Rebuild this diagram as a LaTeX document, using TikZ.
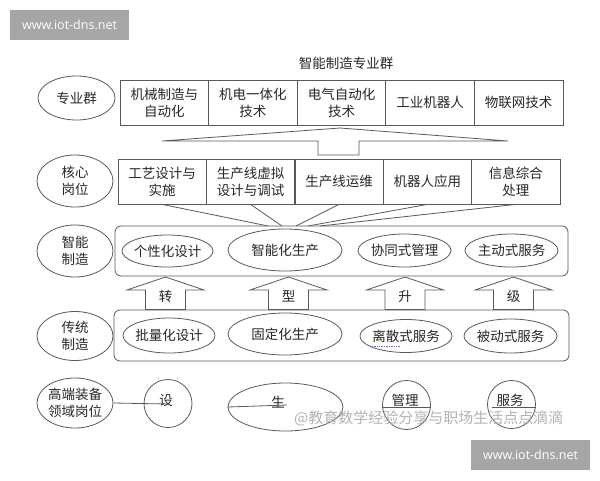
\documentclass[tikz,border=0pt]{standalone}
\usepackage{fontspec}
\newfontfamily\cjk{Noto Sans CJK SC}
\newfontfamily\wmfont{Open Sans}
\usetikzlibrary{shapes.geometric}
\begin{document}
\begin{tikzpicture}[x=1pt,y=-1pt,
  ln/.style={draw=black!65, line width=0.8pt},
  shapeell/.style={ellipse, ln, inner sep=0pt},
  txt/.style={font=\cjk\fontsize{13.5}{17}\selectfont, align=center, text=black!85, inner sep=0pt},
  cell/.style={rectangle, ln, minimum width=88.6pt, minimum height=45pt, inner sep=0pt, txt},
  rbox/.style={rectangle, ln, rounded corners=6pt, inner sep=0pt},
  blockarrow/.style={ln, fill=white, line join=miter},
  wmbox/.style={fill=black!35, inner sep=0pt, minimum width=119pt, minimum height=30pt, text=white, font=\wmfont\fontsize{12.5}{14}\selectfont},
  wmtext/.style={font=\cjk\fontsize{15}{18}\selectfont, text=black!30, inner sep=0pt}
]
\useasboundingbox (0,0) rectangle (600,480);

% watermarks
\node[wmbox] (wm1) at (69.5,25) {www.iot-dns.net};
\node[wmbox] (wm2) at (530.5,455) {www.iot-dns.net};

% title
\node[txt] (title) at (346,63) {智能制造专业群};

% left column ellipses
\node[shapeell, minimum width=77pt, minimum height=44pt] (e1) at (76.5,98) {};
\node[txt] (e1t) at (e1) {专业群};
\node[shapeell, minimum width=76pt, minimum height=52pt] (e2) at (75,181) {};
\node[txt] (e2t) at (e2) {核心\\岗位};
\node[shapeell, minimum width=76pt, minimum height=52pt] (e3) at (75,251) {};
\node[txt] (e3t) at (e3) {智能\\制造};
\node[shapeell, minimum width=76pt, minimum height=49pt] (e4) at (75,336) {};
\node[txt] (e4t) at (e4) {传统\\制造};
\node[shapeell, minimum width=76pt, minimum height=50pt] (e5) at (75,403) {};
\node[txt] (e5t) at (e5) {高端装备\\领域岗位};

% row 1: specialty group
\node[cell] (a1) at (164.3,102.5) {机械制造与\\自动化};
\node[cell] (a2) at (252.9,102.5) {机电一体化\\技术};
\node[cell] (a3) at (341.5,102.5) {电气自动化\\技术};
\node[cell] (a4) at (430.1,102.5) {工业机器人};
\node[cell] (a5) at (518.7,102.5) {物联网技术};

% funnel
\draw[ln, line join=miter] (162,141) -- (340,128) -- (508,141) -- (359,141) -- (359,155)
  -- (318,155) -- (318,141) -- cycle;

% row 2: core positions
\node[cell] (b1) at (162.2,181.5) {工艺设计与\\实施};
\node[cell] (b2) at (250.6,181.5) {生产线虚拟\\设计与调试};
\node[cell] (b3) at (339,181.5) {生产线运维};
\node[cell] (b4) at (427.4,181.5) {机器人应用};
\node[cell] (b5) at (515.8,181.5) {信息综合\\处理};

% smart manufacturing box
\node[rbox, minimum width=453pt, minimum height=50pt] (sm) at (341.5,251) {};
\node[shapeell, minimum width=91pt, minimum height=32pt] (s1) at (167.5,251) {};
\node[txt] (s1t) at (s1) {个性化设计};
\node[shapeell, minimum width=114pt, minimum height=42pt] (s2) at (285,250) {};
\node[txt] (s2t) at (s2) {智能化生产};
\node[shapeell, minimum width=93pt, minimum height=33pt] (s3) at (404.5,250.5) {};
\node[txt] (s3t) at (s3) {协同式管理};
\node[shapeell, minimum width=93pt, minimum height=33pt] (s4) at (511.5,250.5) {};
\node[txt] (s4t) at (s4) {主动式服务};

% converging lines
\coordinate (t1) at (268,226);
\coordinate (t2) at (282,226);
\coordinate (t3) at (296,226);
\coordinate (t4) at (308,226);
\coordinate (t5) at (320,226);
\draw[ln] (b1.south) -- (t1);
\draw[ln] (b2.south) -- (t2);
\draw[ln] (b3.south) -- (t3);
\draw[ln] (b4.south) -- (t4);
\draw[ln] (b5.south) -- (t5);

% traditional manufacturing box
\node[rbox, minimum width=455pt, minimum height=51pt] (tm) at (341.5,335.5) {};
\node[shapeell, minimum width=92pt, minimum height=35pt] (r1) at (169,335.5) {};
\node[txt] (r1t) at (r1) {批量化设计};
\node[shapeell, minimum width=114pt, minimum height=42pt] (r2) at (285,334) {};
\node[txt] (r2t) at (r2) {固定化生产};
\node[shapeell, minimum width=92pt, minimum height=33pt] (r3) at (406,336) {};
\node[txt] (r3t) at (r3) {离散式服务};
\node[shapeell, minimum width=93pt, minimum height=34pt] (r4) at (510.5,336) {};
\node[txt] (r4t) at (r4) {被动式服务};
\draw[blue!60, densely dotted, line width=0.7pt] (372,346) -- (400,346);

% block arrows (transformation and upgrade)
\foreach \cx in {165.5,288.5,405,513.5}{
  \draw[blockarrow] (\cx,277) -- (\cx+38.5,290) -- (\cx+20,290) -- (\cx+20,309.5)
    -- (\cx-20,309.5) -- (\cx-20,290) -- (\cx-38.5,290) -- cycle;
}
\node[txt] (k1) at (165.5,296) {转};
\node[txt] (k2) at (288.5,296) {型};
\node[txt] (k3) at (405,296) {升};
\node[txt] (k4) at (513.5,296) {级};

% bottom row
\node[shapeell, minimum width=48pt, minimum height=48pt] (c1) at (168,403.5) {};
\node[txt] (c1t) at (166,401) {设};
\node[shapeell, minimum width=115pt, minimum height=48pt] (c2) at (285.5,407) {};
\node[txt] (c2t) at (278,402) {生};
\node[shapeell, minimum width=48pt, minimum height=49pt] (c3) at (406.5,405) {};
\node[txt] (c3t) at (405,400) {管理};
\node[shapeell, minimum width=48pt, minimum height=48pt] (c4) at (511.5,404.5) {};
\node[txt] (c4t) at (510,400) {服务};
\coordinate (l1) at (167,404);
\coordinate (l2) at (287,405);
\draw[ln] (e5.east) -- (l1);
\draw[ln] (c2.west) -- (l2);
\draw[ln] (c3.west |- 0,407) -- (c3.east |- 0,407);
\draw[ln] (492,407) -- (c4.east |- 0,407);

% faint watermark text
\node[wmtext, anchor=west] (wm3) at (294,418) {@教育数学经验分享与职场生活点点滴滴};
\end{tikzpicture}
\end{document}
